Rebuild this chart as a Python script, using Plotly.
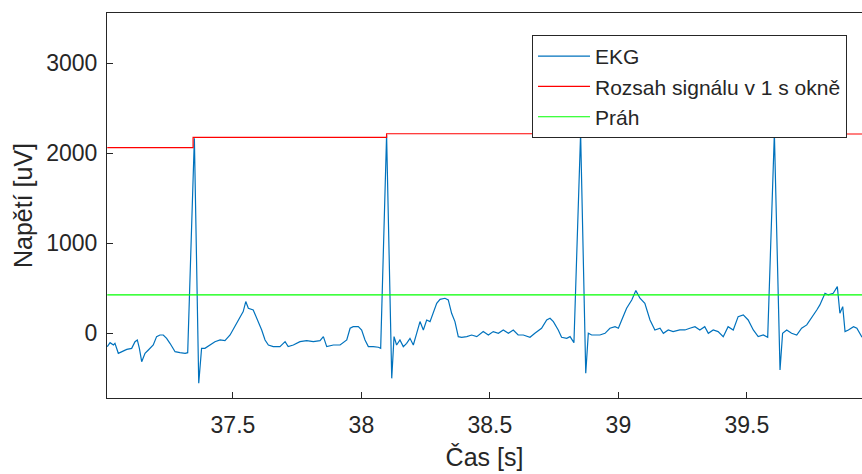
import plotly.graph_objects as go

# ---- data ----
ekg_t = [
    37.011, 37.022, 37.035, 37.041, 37.054, 37.067, 37.087, 37.106, 37.119, 37.128,
    37.136, 37.145, 37.158, 37.171, 37.190, 37.203, 37.216, 37.229, 37.242, 37.255,
    37.275, 37.294, 37.314, 37.324, 37.350, 37.367, 37.378, 37.391, 37.411, 37.430,
    37.450, 37.469, 37.489, 37.508, 37.528, 37.540, 37.550, 37.560, 37.579, 37.593,
    37.612, 37.625, 37.638, 37.657, 37.683, 37.703, 37.715, 37.735, 37.761, 37.787,
    37.813, 37.839, 37.852, 37.865, 37.891, 37.917, 37.943, 37.956, 37.968, 37.988,
    38.001, 38.014, 38.027, 38.046, 38.066, 38.075, 38.098, 38.118, 38.127, 38.137,
    38.150, 38.163, 38.176, 38.189, 38.202, 38.215, 38.228, 38.241, 38.254, 38.267,
    38.280, 38.293, 38.306, 38.325, 38.338, 38.351, 38.364, 38.377, 38.390, 38.410,
    38.429, 38.449, 38.474, 38.494, 38.513, 38.533, 38.552, 38.572, 38.591, 38.610,
    38.630, 38.656, 38.675, 38.701, 38.721, 38.734, 38.747, 38.766, 38.779, 38.799,
    38.812, 38.827, 38.853, 38.873, 38.883, 38.896, 38.915, 38.928, 38.948, 38.967,
    38.987, 39.000, 39.013, 39.032, 39.052, 39.068, 39.084, 39.103, 39.123, 39.142,
    39.162, 39.175, 39.194, 39.213, 39.239, 39.259, 39.278, 39.298, 39.317, 39.336,
    39.350, 39.369, 39.388, 39.408, 39.427, 39.447, 39.466, 39.486, 39.505, 39.525,
    39.544, 39.564, 39.581, 39.607, 39.629, 39.639, 39.655, 39.674, 39.694, 39.713,
    39.733, 39.752, 39.772, 39.784, 39.804, 39.817, 39.836, 39.852, 39.862, 39.873,
    39.882, 39.895, 39.915, 39.928, 39.941, 39.948,
]
ekg_uv = [
    -148, -104, -130, -111, -222, -204, -178, -167, -93, -74,
    -167, -315, -222, -185, -130, -37, -19, -19, -56, -111,
    -204, -215, -222, -215, 2165, -555, -167, -167, -130, -93,
    -74, -81, -19, 74, 185, 241, 352, 278, 259, 167,
    37, -74, -130, -148, -148, -93, -148, -130, -93, -81,
    -93, -81, -37, -148, -130, -130, -74, 56, 74, 74,
    37, -74, -148, -148, -155, -167, 2202, -500, -37, -130,
    -74, -148, -111, -56, -130, 0, 130, 37, 148, 130,
    241, 333, 377, 389, 370, 222, 130, -37, -44, -37,
    -19, -37, 19, -19, 19, 0, 37, 0, 37, -19,
    -19, -44, 0, 56, 148, 167, 130, 37, -44, -56,
    -37, -104, 2220, -444, 0, -19, -19, -19, 0, 56,
    74, 56, 148, 278, 370, 474, 389, 333, 148, 37,
    56, 0, 37, 19, 37, 37, 56, 74, 37, 74,
    0, 37, 19, -37, 74, 37, 185, 204, 148, 37,
    -37, -19, -44, 2220, -407, 0, 37, 0, -19, 56,
    93, 167, 259, 315, 444, 426, 444, 518, 222, 296,
    19, 37, 74, 56, -19, -44,
]
range_t = [37.011, 37.345, 38.098, 38.857, 39.849, 39.948]
range_uv = [2060, 2175, 2215, 2232, 2212, 2212]
threshold_uv = 426

x_ticks = [37.5, 38, 38.5, 39, 39.5]
x_tick_labels = ["37.5", "38", "38.5", "39", "39.5"]
y_ticks = [0, 1000, 2000, 3000]
y_tick_labels = ["0", "1000", "2000", "3000"]

names = ["EKG", "Rozsah signálu v 1 s okně", "Práh"]

FONT = "Liberation Sans, Arial, sans-serif"
TXT = "#262626"

fig = go.Figure()
fig.add_trace(go.Scatter(x=ekg_t, y=ekg_uv, mode="lines", name=names[0],
                         line=dict(color="#0072BD", width=1.2)))
fig.add_trace(go.Scatter(x=range_t, y=range_uv, mode="lines", name=names[1],
                         line=dict(color="#FF0000", width=1.2, shape="hv")))
fig.add_trace(go.Scatter(x=[ekg_t[0], ekg_t[-1]], y=[threshold_uv, threshold_uv],
                         mode="lines", name=names[2],
                         line=dict(color="#00FF00", width=1.2)))

fig.update_layout(
    width=862, height=474,
    margin=dict(l=107, r=0, t=13, b=76, autoexpand=False),
    paper_bgcolor="white", plot_bgcolor="white",
    font=dict(family=FONT, color=TXT, size=23),
    showlegend=True,
    legend=dict(x=(847 - 107) / 755, xanchor="right",
                y=(398 - 35) / 385, yanchor="top",
                bgcolor="white", bordercolor=TXT, borderwidth=1,
                font=dict(family=FONT, size=21, color=TXT),
                itemwidth=52, tracegroupgap=0),
)
fig.update_xaxes(
    range=[37.01, 39.948], tickvals=x_ticks, ticktext=x_tick_labels,
    ticks="inside", ticklen=6, tickcolor=TXT, showgrid=False, zeroline=False,
    showline=True, linecolor=TXT, linewidth=1, mirror=True, automargin=False,
    tickfont=dict(size=23, family=FONT, color=TXT), ticklabelstandoff=6,
    title=dict(text="Čas [s]", font=dict(size=25, family=FONT, color=TXT), standoff=11),
)
fig.update_yaxes(
    range=[-718, 3555], tickvals=y_ticks, ticktext=y_tick_labels,
    ticks="inside", ticklen=6, tickcolor=TXT, showgrid=False, zeroline=False,
    showline=True, linecolor=TXT, linewidth=1, mirror=False, automargin=False,
    tickfont=dict(size=23, family=FONT, color=TXT), ticklabelstandoff=4,
    title=dict(text="Napětí [uV]", font=dict(size=25, family=FONT, color=TXT), standoff=6),
)

fig.write_html(
    "out.html",
    config={"displayModeBar": False},
    post_script="document.body.style.margin='0';document.body.style.overflow='hidden';",
)
